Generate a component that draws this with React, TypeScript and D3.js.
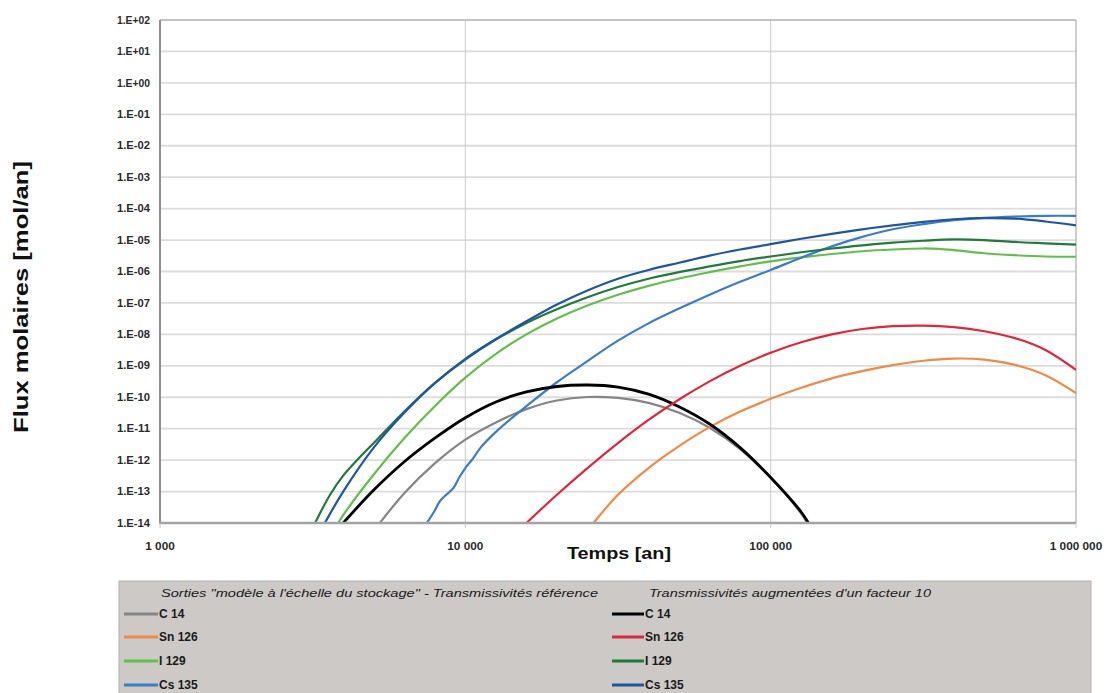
import React from "react";
import * as d3 from "d3";

// ---------- data (years, mol/an) ----------
const c14RefT = [5248, 6310, 7943, 10000, 12590, 15850, 19950, 25120, 31620, 39810, 50120, 63100, 79430, 100000, 125900, 131800];
const c14RefF = [1.0e-14, 8.9e-14, 7.9e-13, 4.5e-12, 1.58e-11, 4.2e-11, 7.9e-11, 1.02e-10, 9.5e-11, 6.6e-11, 3.2e-11, 1.07e-11, 2.24e-12, 2.8e-13, 2.0e-14, 1.0e-14];

const sn126RefT = [26300, 31620, 39810, 50120, 63100, 79430, 100000, 125900, 158500, 199500, 251200, 316200, 398100, 501200, 631000, 794300, 1000000];
const sn126RefF = [1.0e-14, 7.9e-14, 5.6e-13, 2.8e-12, 1.12e-11, 3.5e-11, 8.9e-11, 2.0e-10, 4.0e-10, 6.8e-10, 1.05e-9, 1.45e-9, 1.7e-9, 1.58e-9, 1.07e-9, 5.0e-10, 1.35e-10];

const i129RefT = [3837, 3981, 5012, 6310, 7943, 10000, 12590, 15850, 19950, 25120, 31620, 39810, 50120, 63100, 79430, 100000, 125900, 158500, 199500, 251200, 316200, 354800, 398100, 501200, 631000, 794300, 1000000];
const i129RefF = [1.0e-14, 1.78e-14, 3.5e-13, 5.0e-12, 5.2e-11, 4.2e-10, 2.4e-9, 1.0e-8, 3.2e-8, 8.3e-8, 1.82e-7, 3.5e-7, 6.0e-7, 9.5e-7, 1.45e-6, 2.1e-6, 2.8e-6, 3.6e-6, 4.4e-6, 5.0e-6, 5.4e-6, 5.25e-6, 4.8e-6, 3.8e-6, 3.3e-6, 3.0e-6, 2.95e-6];

const cs135RefT = [7482, 7943, 8260, 8710, 9120, 9550, 10000, 10590, 11220, 12590, 14130, 15850, 19950, 25120, 31620, 39810, 50120, 63100, 79430, 100000, 125900, 158500, 199500, 251200, 316200, 398100, 501200, 631000, 794300, 1000000];
const cs135RefF = [1.0e-14, 2.5e-14, 5.0e-14, 8.3e-14, 1.26e-13, 2.8e-13, 5.6e-13, 1.12e-12, 2.5e-12, 7.9e-12, 2.1e-11, 5.2e-11, 3.0e-10, 1.41e-9, 6.3e-9, 2.24e-8, 6.6e-8, 1.82e-7, 4.7e-7, 1.12e-6, 2.75e-6, 6.3e-6, 1.26e-5, 2.2e-5, 3.2e-5, 4.3e-5, 5.1e-5, 5.6e-5, 5.9e-5, 5.9e-5];

const c14X10T = [3981, 5012, 6310, 7943, 10000, 12590, 15850, 19950, 25120, 31620, 39810, 50120, 63100, 79430, 100000, 125900, 133000];
const c14X10F = [1.0e-14, 1.12e-13, 8.9e-13, 5.0e-12, 2.24e-11, 7.1e-11, 1.48e-10, 2.2e-10, 2.45e-10, 2.1e-10, 1.26e-10, 5.0e-11, 1.41e-11, 2.5e-12, 2.8e-13, 2.24e-14, 1.0e-14];

const sn126X10T = [15850, 19950, 25120, 31620, 39810, 50120, 63100, 79430, 100000, 125900, 158500, 199500, 251200, 316200, 398100, 501200, 631000, 794300, 1000000];
const sn126X10F = [1.0e-14, 7.9e-14, 5.6e-13, 3.5e-12, 1.9e-11, 8.5e-11, 3.2e-10, 1.0e-9, 2.6e-9, 5.6e-9, 1.0e-8, 1.48e-8, 1.82e-8, 1.9e-8, 1.7e-8, 1.26e-8, 7.6e-9, 3.2e-9, 7.4e-10];

const i129X10T = [3221, 3606, 3981, 4470, 5012, 6310, 7943, 10000, 12590, 15850, 19950, 25120, 31620, 39810, 50120, 63100, 79430, 100000, 125900, 158500, 199500, 251200, 316200, 398100, 501200, 631000, 794300, 1000000];
const i129X10F = [1.0e-14, 7.9e-14, 3.2e-13, 1.12e-12, 3.5e-12, 3.5e-11, 2.8e-10, 1.58e-9, 6.8e-9, 2.3e-8, 6.3e-8, 1.51e-7, 3.2e-7, 5.9e-7, 9.5e-7, 1.45e-6, 2.14e-6, 3.0e-6, 4.1e-6, 5.4e-6, 6.8e-6, 8.3e-6, 9.5e-6, 1.05e-5, 1.0e-5, 8.7e-6, 7.9e-6, 7.2e-6];

const cs135X10T = [3467, 3981, 5012, 6310, 7943, 10000, 12590, 15850, 19950, 25120, 31620, 39810, 50120, 63100, 79430, 100000, 125900, 158500, 199500, 251200, 316200, 398100, 501200, 631000, 794300, 1000000];
const cs135X10F = [1.0e-14, 1.0e-13, 2.5e-12, 3.2e-11, 2.8e-10, 1.66e-9, 7.1e-9, 2.6e-8, 8.9e-8, 2.5e-7, 5.9e-7, 1.12e-6, 1.9e-6, 3.2e-6, 5.0e-6, 7.4e-6, 1.1e-5, 1.58e-5, 2.2e-5, 2.95e-5, 3.8e-5, 4.6e-5, 5.0e-5, 4.8e-5, 3.9e-5, 2.95e-5];

const xTickValues = [1000, 10000, 100000, 1000000];
const xTickLabels = ["1 000", "10 000", "100 000", "1 000 000"];
const yTickValues = [1e2, 1e1, 1e0, 1e-1, 1e-2, 1e-3, 1e-4, 1e-5, 1e-6, 1e-7, 1e-8, 1e-9, 1e-10, 1e-11, 1e-12, 1e-13, 1e-14];
const yTickLabels = ["1.E+02", "1.E+01", "1.E+00", "1.E-01", "1.E-02", "1.E-03", "1.E-04", "1.E-05", "1.E-06", "1.E-07", "1.E-08", "1.E-09", "1.E-10", "1.E-11", "1.E-12", "1.E-13", "1.E-14"];

const nuclides = ["C 14", "Sn 126", "I 129", "Cs 135"];
const legendTitleRef = "Sorties \"modèle à l'échelle du stockage\" - Transmissivités référence";
const legendTitleX10 = "Transmissivités augmentées d'un facteur 10";

const refColors = ["#858585", "#f08a45", "#62bf4c", "#3d7cc6"];
const x10Colors = ["#000000", "#e1263b", "#217a3c", "#1f56a3"];

const refSeries = [
  [c14RefT, c14RefF],
  [sn126RefT, sn126RefF],
  [i129RefT, i129RefF],
  [cs135RefT, cs135RefF],
];
const x10Series = [
  [c14X10T, c14X10F],
  [sn126X10T, sn126X10F],
  [i129X10T, i129X10F],
  [cs135X10T, cs135X10F],
];

// ---------- layout ----------
const W = 1109;
const H = 693;
const P = { left: 160, top: 20, right: 1076, bottom: 523 };
const narrow = "'Liberation Sans Narrow','Arial Narrow','Liberation Sans',Arial,sans-serif";
const sans = "'Liberation Sans',Arial,Helvetica,sans-serif";

export default function App() {
  const x = d3.scaleLog().domain([1000, 1000000]).range([P.left, P.right]);
  const y = d3.scaleLog().domain([1e-14, 1e2]).range([P.bottom, P.top]);

  const line = d3
    .line<[number, number]>()
    .x((d) => x(d[0]))
    .y((d) => y(d[1]))
    .curve(d3.curveCatmullRom.alpha(0.5));

  const toPts = (t: number[], f: number[]) => t.map((v, i) => [v, f[i]] as [number, number]);

  const legendRows = [614, 637, 661, 685];

  return (
    <svg
      width={W}
      height={H}
      style={{ position: "absolute", left: 0, top: 0, background: "#fff" }}
    >
      <defs>
        <clipPath id="plotClip">
          <rect x={P.left} y={P.top - 2} width={P.right - P.left} height={P.bottom - P.top + 2} />
        </clipPath>
      </defs>
      <rect x={0} y={0} width={W} height={H} fill="#fff" />

      {/* horizontal grid */}
      {yTickValues.map((v, i) => (
        <line
          key={"hg" + i}
          x1={P.left}
          x2={P.right}
          y1={y(v)}
          y2={y(v)}
          stroke="#dcdcdc"
          strokeWidth={1.8}
        />
      ))}
      {/* vertical grid */}
      {xTickValues.slice(1, 3).map((v, i) => (
        <line
          key={"vg" + i}
          x1={x(v)}
          x2={x(v)}
          y1={P.top}
          y2={P.bottom}
          stroke="#c9c9c9"
          strokeWidth={1}
        />
      ))}
      {/* frame */}
      <line x1={P.left} x2={P.right} y1={P.top} y2={P.top} stroke="#bdbdbd" strokeWidth={1.5} />
      <line x1={P.right} x2={P.right} y1={P.top} y2={P.bottom} stroke="#bdbdbd" strokeWidth={1.5} />

      {/* curves */}
      <g clipPath="url(#plotClip)">
        {refSeries.map((s, i) => (
          <path
            key={"r" + i}
            d={line(toPts(s[0], s[1])) || ""}
            fill="none"
            stroke={refColors[i]}
            strokeWidth={2.2}
            strokeLinejoin="round"
          />
        ))}
        {x10Series.map((s, i) => (
          <path
            key={"x" + i}
            d={line(toPts(s[0], s[1])) || ""}
            fill="none"
            stroke={x10Colors[i]}
            strokeWidth={i === 0 ? 2.8 : 2.2}
            strokeLinejoin="round"
          />
        ))}
      </g>

      {/* axes */}
      <line x1={P.left} x2={P.left} y1={P.top} y2={P.bottom + 1} stroke="#8f8f8f" strokeWidth={2} />
      <line x1={P.left - 1} x2={P.right} y1={P.bottom} y2={P.bottom} stroke="#a3a3a3" strokeWidth={2.5} />
      {xTickValues.map((v, i) => (
        <line
          key={"xt" + i}
          x1={x(v)}
          x2={x(v)}
          y1={P.bottom}
          y2={P.bottom + 5}
          stroke="#c8c8c8"
          strokeWidth={1}
        />
      ))}

      {/* y tick labels */}
      {yTickValues.map((v, i) => (
        <text
          key={"yl" + i}
          x={150}
          y={y(v)}
          dy="0.35em"
          textAnchor="end"
          fontFamily={narrow}
          fontSize={10.5}
          fontWeight="bold"
          fill="#2a2a2a"
          textLength={33}
          lengthAdjust="spacingAndGlyphs"
        >
          {yTickLabels[i]}
        </text>
      ))}

      {/* x tick labels */}
      {xTickValues.map((v, i) => (
        <text
          key={"xl" + i}
          x={x(v)}
          y={550}
          textAnchor="middle"
          fontFamily={narrow}
          fontSize={11.8}
          fontWeight="bold"
          fill="#2a2a2a"
        >
          {xTickLabels[i]}
        </text>
      ))}

      {/* axis titles */}
      <text
        x={619}
        y={559}
        textAnchor="middle"
        fontFamily={sans}
        fontSize={17}
        fontWeight="bold"
        fill="#111"
        textLength={104}
        lengthAdjust="spacingAndGlyphs"
      >
        Temps [an]
      </text>
      <text
        transform="translate(21,297) rotate(-90)"
        textAnchor="middle"
        fontFamily={sans}
        fontSize={20}
        fontWeight="bold"
        fill="#111"
        textLength={272}
        lengthAdjust="spacingAndGlyphs"
        dy="0.35em"
      >
        Flux molaires [mol/an]
      </text>

      {/* legend */}
      <rect x={119} y={581} width={972} height={120} fill="#cdc9c6" stroke="#b3afac" strokeWidth={1} />
      <text
        x={161}
        y={597}
        fontFamily={narrow}
        fontSize={11.5}
        fontStyle="italic"
        fill="#1a1a1a"
        textLength={437}
        lengthAdjust="spacingAndGlyphs"
      >
        {legendTitleRef}
      </text>
      <text
        x={649}
        y={597}
        fontFamily={narrow}
        fontSize={11.5}
        fontStyle="italic"
        fill="#1a1a1a"
        textLength={282}
        lengthAdjust="spacingAndGlyphs"
      >
        {legendTitleX10}
      </text>
      {nuclides.map((n, i) => (
        <g key={"lg" + i}>
          <line x1={124} x2={158} y1={legendRows[i]} y2={legendRows[i]} stroke={refColors[i]} strokeWidth={3} />
          <text
            x={159}
            y={legendRows[i]}
            dy="0.36em"
            fontFamily={narrow}
            fontSize={12}
            fontWeight="bold"
            fill="#1a1a1a"
          >
            {n}
          </text>
          <line x1={612} x2={644} y1={legendRows[i]} y2={legendRows[i]} stroke={x10Colors[i]} strokeWidth={3} />
          <text
            x={645}
            y={legendRows[i]}
            dy="0.36em"
            fontFamily={narrow}
            fontSize={12}
            fontWeight="bold"
            fill="#1a1a1a"
          >
            {n}
          </text>
        </g>
      ))}
    </svg>
  );
}
